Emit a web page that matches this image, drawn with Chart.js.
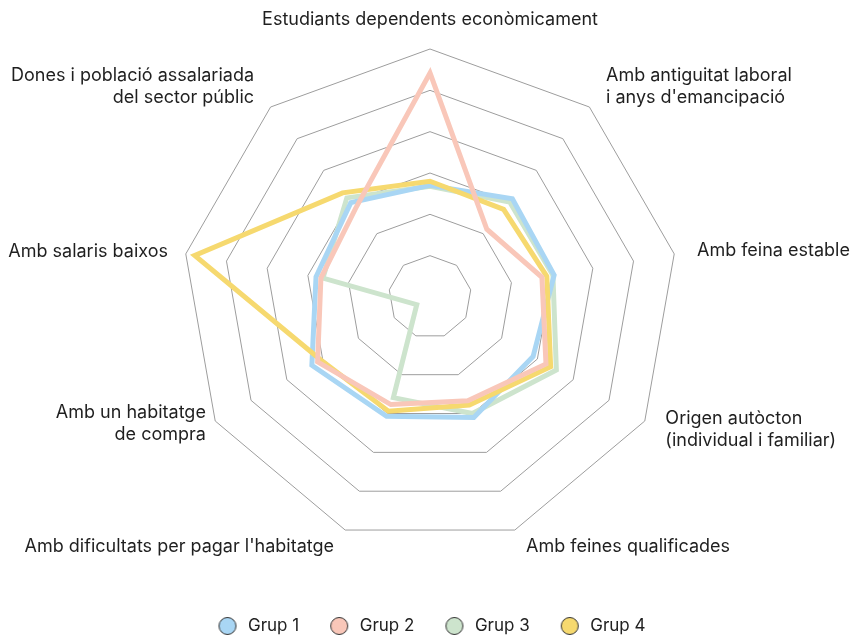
<!DOCTYPE html>
<html lang="ca">
<head>
<meta charset="utf-8">
<title>Perfils dels grups</title>
<script src="https://cdn.jsdelivr.net/npm/chart.js@4.4.1/dist/chart.umd.min.js"></script>
<style>
  html, body { margin: 0; padding: 0; background: #fff; }
  #chart-wrap { width: 851px; height: 638px; position: relative; }
</style>
</head>
<body>
<div id="chart-wrap"><canvas id="radar"></canvas></div>
<script>
// axes, clockwise from the top
const categories = [
  "Estudiants dependents econòmicament",
  ["Amb antiguitat laboral", "i anys d'emancipació"],
  "Amb feina estable",
  ["Origen autòcton", "(individual i familiar)"],
  "Amb feines qualificades",
  "Amb dificultats per pagar l'habitatge",
  ["Amb un habitatge", "de compra"],
  "Amb salaris baixos",
  ["Dones i població assalariada", "del sector públic"]
];

const grup1 = [2.70, 3.10, 3.05, 2.88, 3.10, 3.07, 3.30, 2.80, 2.98];
const grup2 = [5.42, 2.14, 2.75, 3.24, 2.67, 2.77, 3.14, 2.68, 2.80];
const grup3 = [2.68, 3.00, 3.02, 3.53, 3.00, 2.59, 0.37, 2.63, 3.13];
const grup4 = [2.80, 2.77, 2.87, 3.37, 2.78, 2.94, 3.05, 5.78, 3.29];

const seriesNames = ["Grup 1", "Grup 2", "Grup 3", "Grup 4"];
const seriesColors = ["#a9d6f4", "#f9c7b9", "#cde4cd", "#f6d96f"];
// lower order is drawn on top (pink over yellow over blue over green)
const seriesOrder = [3, 1, 4, 2];

const scaleMax = 6;
const FONT = "Inter, 'Noto Sans', sans-serif";
const LINE_H = 22;
// distance of each axis label beyond the outer ring
const labelGaps = [18, 18, 18, 18, 18, 18, 5, 13, 18];

function legendDot(color) {
  const c = document.createElement("canvas");
  c.width = 20;
  c.height = 20;
  const g = c.getContext("2d");
  g.beginPath();
  g.arc(10, 10, 8.5, 0, Math.PI * 2);
  g.fillStyle = color;
  g.fill();
  g.lineWidth = 1;
  g.strokeStyle = "#333";
  g.stroke();
  return c;
}
const legendDots = seriesColors.map(legendDot);

// point labels drawn around the outer ring, at the scale's own positions
const outerLabels = {
  id: "outerLabels",
  afterDraw(chart) {
    const scale = chart.scales.r;
    const ctx = chart.ctx;
    ctx.save();
    ctx.font = "18px " + FONT;
    ctx.fillStyle = "#1f1f1f";
    ctx.textBaseline = "middle";
    categories.forEach((label, i) => {
      const lines = Array.isArray(label) ? label : [label];
      const pos = scale.getPointPosition(i, scale.drawingArea + labelGaps[i]);
      let x = pos.x;
      let align = "center";
      if (pos.x > scale.xCenter + 1) { align = "left"; x += 5; }
      else if (pos.x < scale.xCenter - 1) { align = "right"; x -= 5; }
      const blockH = lines.length * LINE_H;
      let top = align === "center" ? pos.y - blockH : pos.y - blockH / 2;
      // upper diagonal labels sit a little higher
      if (align !== "center" && pos.y < scale.yCenter - scale.drawingArea / 2) top -= 7;
      ctx.textAlign = align;
      lines.forEach((line, j) => ctx.fillText(line, x, top + LINE_H * (j + 0.5)));
    });
    ctx.restore();
  }
};

const seriesData = [grup1, grup2, grup3, grup4];

const ctx = document.getElementById("radar").getContext("2d");
new Chart(ctx, {
  type: "radar",
  data: {
    labels: categories,
    datasets: seriesNames.map((name, i) => ({
      label: name,
      data: seriesData[i],
      borderColor: seriesColors[i],
      backgroundColor: seriesColors[i],
      borderWidth: 5,
      borderJoinStyle: "miter",
      fill: false,
      pointRadius: 0,
      pointHoverRadius: 0,
      order: seriesOrder[i],
    })),
  },
  options: {
    responsive: true,
    maintainAspectRatio: false,
    devicePixelRatio: 1,
    animation: false,
    layout: {
      padding: { top: 5, bottom: -6.5, left: 182.5, right: 172.5 },
    },
    scales: {
      r: {
        min: 0,
        max: scaleMax,
        z: 1,
        ticks: { display: false, stepSize: 1 },
        grid: { color: "#9d9d9d", lineWidth: 1 },
        angleLines: { display: false },
        pointLabels: { display: false },
      },
    },
    plugins: {
      tooltip: { enabled: false },
      legend: {
        position: "bottom",
        labels: {
          usePointStyle: true,
          pointStyleWidth: 24,
          padding: 28,
          color: "#222",
          font: { family: FONT, size: 17 },
          sort: (a, b) => a.datasetIndex - b.datasetIndex,
          generateLabels(chart) {
            const items = Chart.defaults.plugins.legend.labels.generateLabels(chart);
            return items.map((item) => Object.assign(item, { pointStyle: legendDots[item.datasetIndex] }));
          },
        },
      },
    },
  },
  plugins: [outerLabels],
});
</script>
</body>
</html>
